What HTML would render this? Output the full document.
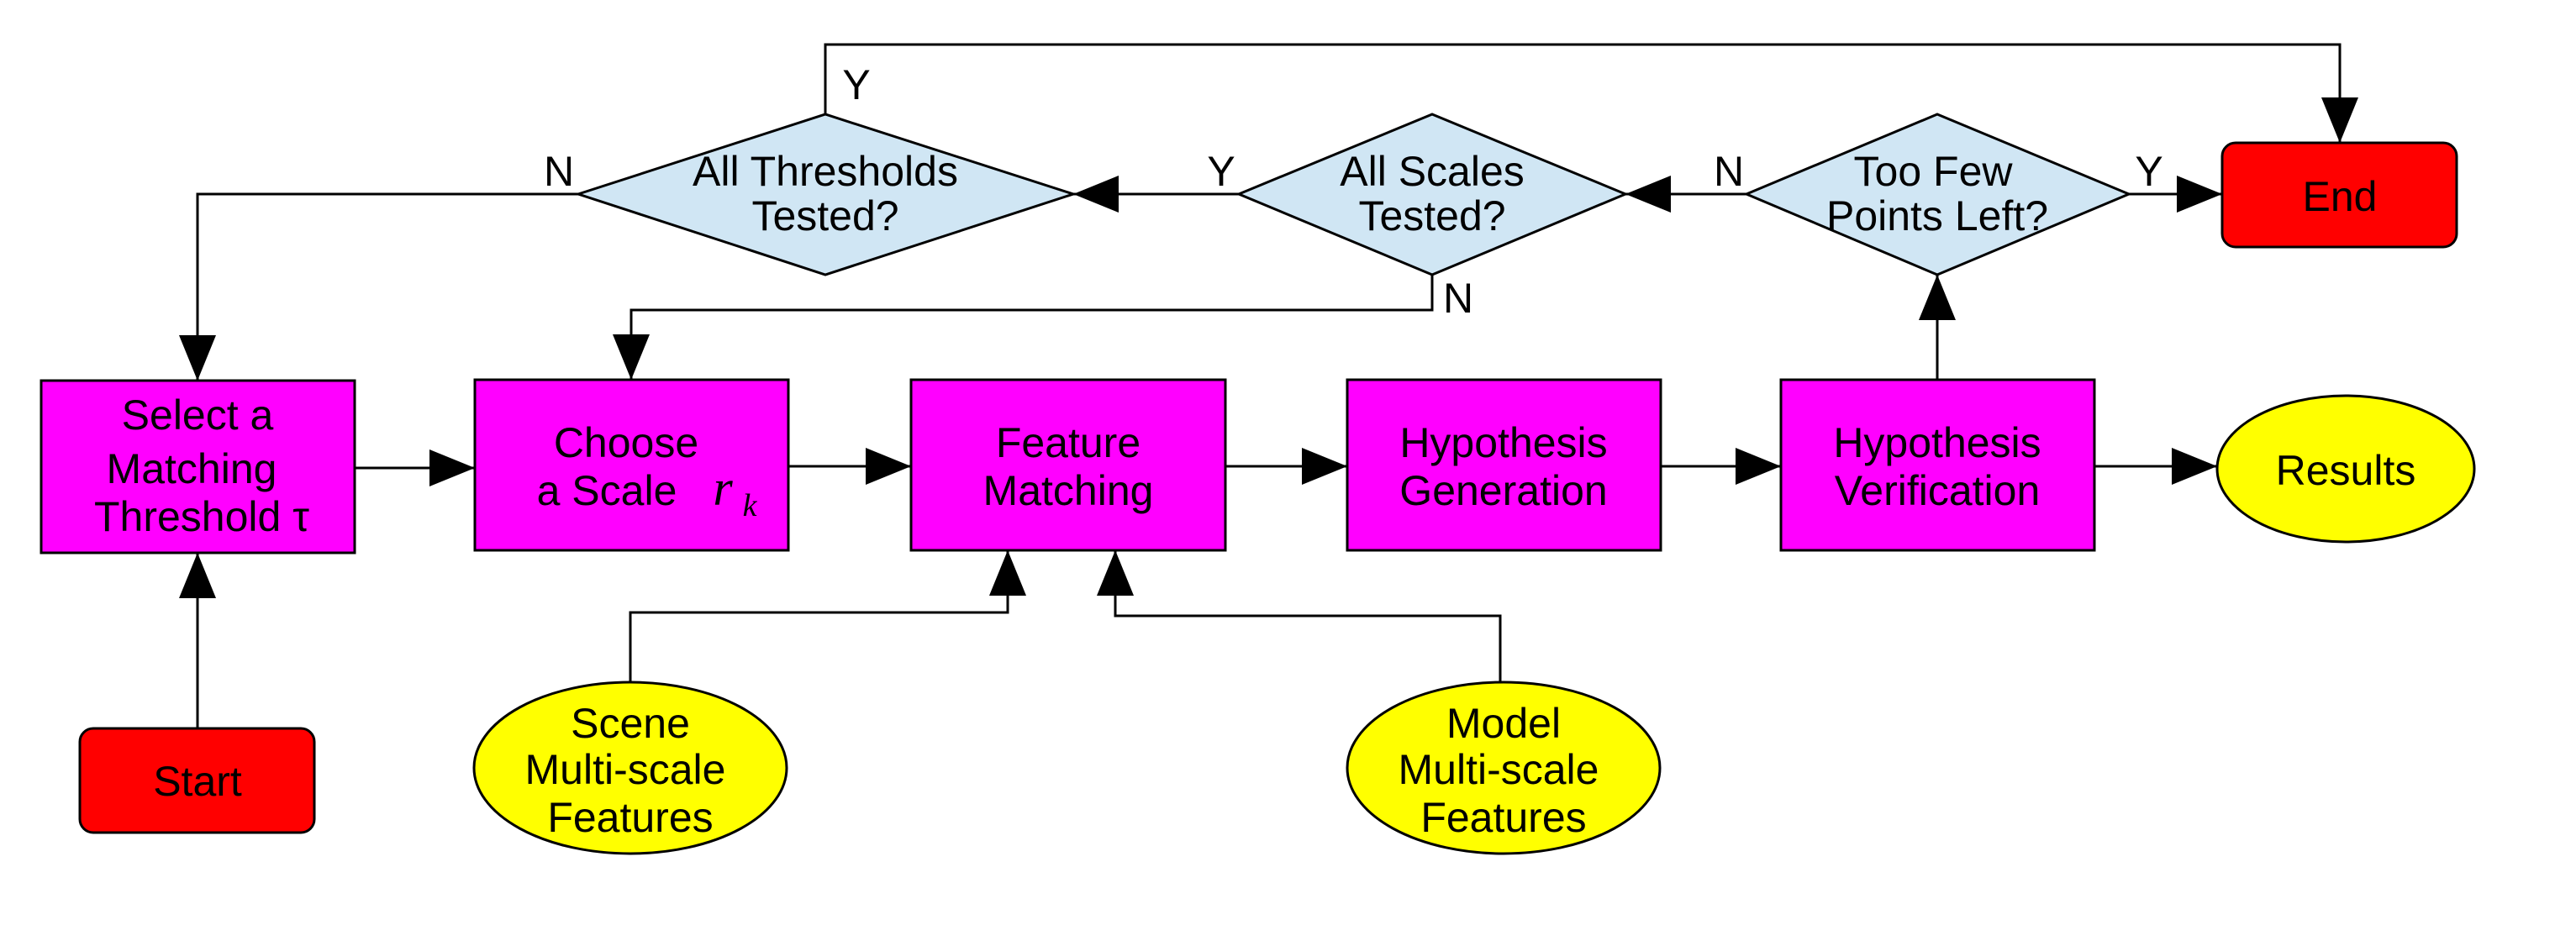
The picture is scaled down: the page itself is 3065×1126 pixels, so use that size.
<!DOCTYPE html>
<html><head><style>html,body{margin:0;padding:0;background:#fff;overflow:hidden}svg{display:block}</style></head><body>
<svg width="3065" height="1126" viewBox="0 0 3065 1126" xmlns="http://www.w3.org/2000/svg" font-family="Liberation Sans, Arial, sans-serif" font-size="50">
<defs>
<marker id="a" markerWidth="54" markerHeight="44" refX="54" refY="22" orient="auto" markerUnits="userSpaceOnUse">
<path d="M0,0 L54,22 L0,44 Z" fill="#000"/>
</marker>
</defs>
<g fill="none" stroke="#000" stroke-width="3">
<polyline points="982,136 982,53 2784,53 2784,170" marker-end="url(#a)"/>
<polyline points="688,231 235,231 235,453" marker-end="url(#a)"/>
<line x1="1474" y1="231" x2="1277" y2="231" marker-end="url(#a)"/>
<line x1="2078" y1="231" x2="1934" y2="231" marker-end="url(#a)"/>
<line x1="2533" y1="231" x2="2644" y2="231" marker-end="url(#a)"/>
<polyline points="1704,327 1704,369 751,369 751,452" marker-end="url(#a)"/>
<line x1="2305" y1="452" x2="2305" y2="327" marker-end="url(#a)"/>
<line x1="422" y1="557" x2="565" y2="557" marker-end="url(#a)"/>
<line x1="938" y1="555" x2="1084" y2="555" marker-end="url(#a)"/>
<line x1="1458" y1="555" x2="1603" y2="555" marker-end="url(#a)"/>
<line x1="1976" y1="555" x2="2119" y2="555" marker-end="url(#a)"/>
<line x1="2492" y1="555" x2="2638" y2="555" marker-end="url(#a)"/>
<line x1="235" y1="867" x2="235" y2="658" marker-end="url(#a)"/>
<polyline points="750,812 750,729 1199,729 1199,655" marker-end="url(#a)"/>
<polyline points="1785,812 1785,733 1327,733 1327,655" marker-end="url(#a)"/>
</g>
<g stroke="#000" stroke-width="3">
<polygon points="688,231 982,136 1277,231 982,327" fill="#d0e6f4"/>
<polygon points="1474,231 1704,136 1934,231 1704,327" fill="#d0e6f4"/>
<polygon points="2078,231 2305,136 2533,231 2305,327" fill="#d0e6f4"/>
<rect x="2644" y="170" width="279" height="124" rx="16" fill="#ff0000"/>
<rect x="95" y="867" width="279" height="124" rx="16" fill="#ff0000"/>
<rect x="49" y="453" width="373" height="205" fill="#ff00ff"/>
<rect x="565" y="452" width="373" height="203" fill="#ff00ff"/>
<rect x="1084" y="452" width="374" height="203" fill="#ff00ff"/>
<rect x="1603" y="452" width="373" height="203" fill="#ff00ff"/>
<rect x="2119" y="452" width="373" height="203" fill="#ff00ff"/>
<ellipse cx="2791" cy="558" rx="153" ry="87" fill="#ffff00"/>
<ellipse cx="750" cy="914" rx="186" ry="102" fill="#ffff00"/>
<ellipse cx="1789" cy="914" rx="186" ry="102" fill="#ffff00"/>
</g>
<g fill="#000" text-anchor="middle">
<text x="982" y="221">All Thresholds</text>
<text x="982" y="274">Tested?</text>
<text x="1704" y="221">All Scales</text>
<text x="1704" y="274">Tested?</text>
<text x="2300" y="221">Too Few</text>
<text x="2305" y="274">Points Left?</text>
<text x="2784" y="251">End</text>
<text x="235" y="511">Select a</text>
<text x="228" y="575">Matching</text>
<text x="240" y="632">Threshold τ</text>
<text x="745" y="544">Choose</text>
<text x="722" y="601">a Scale</text>
<text x="860" y="601" font-family="Liberation Serif, serif" font-style="italic" font-size="60">r</text>
<text x="892" y="614" font-family="Liberation Serif, serif" font-style="italic" font-size="38">k</text>
<text x="1271" y="544">Feature</text>
<text x="1271" y="601">Matching</text>
<text x="1789" y="544">Hypothesis</text>
<text x="1789" y="601">Generation</text>
<text x="2305" y="544">Hypothesis</text>
<text x="2305" y="601">Verification</text>
<text x="2791" y="577">Results</text>
<text x="235" y="947">Start</text>
<text x="750" y="878">Scene</text>
<text x="744" y="933">Multi-scale</text>
<text x="750" y="990">Features</text>
<text x="1789" y="878">Model</text>
<text x="1783" y="933">Multi-scale</text>
<text x="1789" y="990">Features</text>
<text x="1019" y="118">Y</text>
<text x="665" y="221">N</text>
<text x="1453" y="221">Y</text>
<text x="2057" y="221">N</text>
<text x="2557" y="221">Y</text>
<text x="1735" y="372">N</text>
</g>
</svg>
</body></html>
